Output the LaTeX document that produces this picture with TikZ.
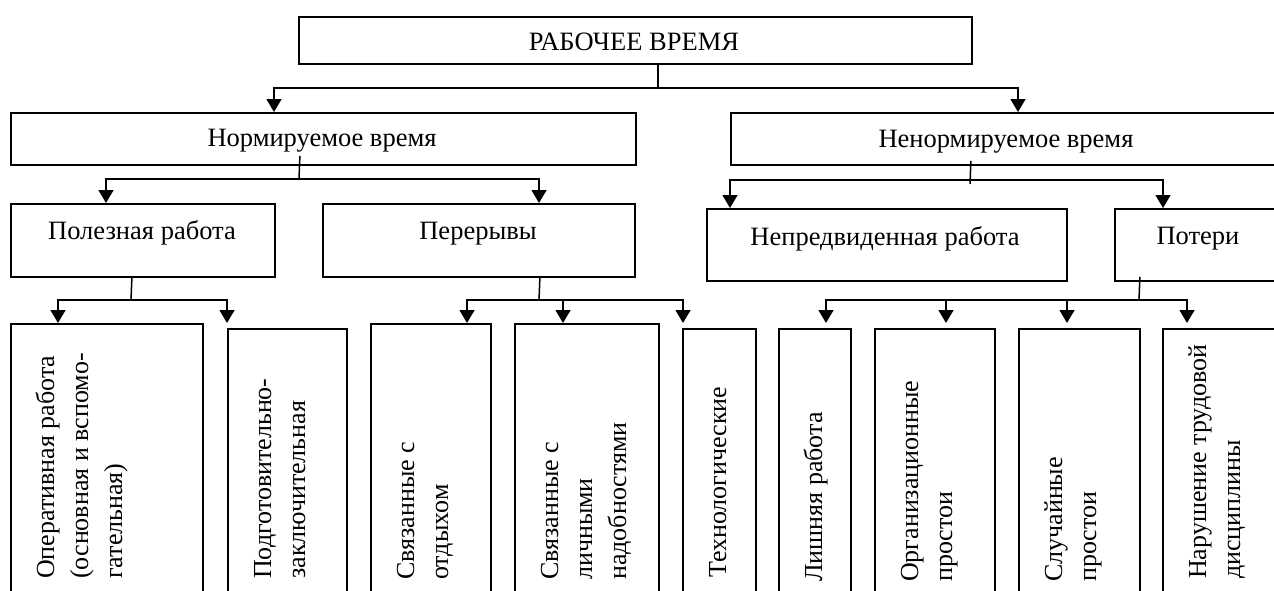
\documentclass[tikz,border=0pt]{standalone}
\usepackage{fontspec}
\setmainfont{Liberation Serif}
\usetikzlibrary{arrows.meta}
\newcommand\vtext[1]{\begin{tabular}[t]{@{}l@{}}#1\end{tabular}}
\begin{document}
\begin{tikzpicture}[x=1pt,y=-1pt,
  box/.style={draw, line width=1.8pt, inner sep=0pt, anchor=north west},
  lbl/.style={inner sep=0pt, anchor=base, font=\fontsize{26.5}{31}\selectfont},
  vlbl/.style={inner sep=0pt, anchor=base west, rotate=90, font=\fontsize{26}{34}\selectfont},
  conn/.style={line width=1.5pt},
  arr/.style={conn, -{Triangle[length=13pt,width=15pt]}},
]
\useasboundingbox (0,0) rectangle (1274,590);
\fill[white] (0,0) rectangle (1274,590);
\clip (0,0) rectangle (1274,590);

% level 0
\node[box, minimum width=673pt, minimum height=47pt] (top) at (298,16) {};
\node[lbl] (ttop) at (634,50) {РАБОЧЕЕ ВРЕМЯ};

% level 1
\node[box, minimum width=625pt, minimum height=52pt] (norm) at (10,112) {};
\node[lbl] (tnorm) at (322,146) {Нормируемое время};
\node[box, minimum width=560pt, minimum height=52pt] (nenorm) at (730,112) {};
\node[lbl] (tnenorm) at (1006,147) {Ненормируемое время};

% level 2
\node[box, minimum width=264pt, minimum height=73pt] (pol) at (10,203) {};
\node[lbl] (tpol) at (142,239) {Полезная работа};
\node[box, minimum width=312pt, minimum height=73pt] (per) at (322,203) {};
\node[lbl] (tper) at (478,239) {Перерывы};
\node[box, minimum width=360pt, minimum height=72pt] (nepr) at (706,208) {};
\node[lbl] (tnepr) at (885,245) {Непредвиденная работа};
\node[box, minimum width=176pt, minimum height=72pt] (pot) at (1114,208) {};
\node[lbl] (tpot) at (1198,244) {Потери};

% level 3
\node[box, minimum width=192pt, minimum height=277pt] (op) at (10,323) {};
\node[box, minimum width=119pt, minimum height=272pt] (podg) at (227,328) {};
\node[box, minimum width=120pt, minimum height=277pt] (otd) at (370,323) {};
\node[box, minimum width=144pt, minimum height=277pt] (lich) at (514,323) {};
\node[box, minimum width=73pt, minimum height=272pt] (tech) at (682,328) {};
\node[box, minimum width=72pt, minimum height=272pt] (lish) at (778,328) {};
\node[box, minimum width=120pt, minimum height=272pt] (org) at (874,328) {};
\node[box, minimum width=121pt, minimum height=272pt] (slu) at (1018,328) {};
\node[box, minimum width=130pt, minimum height=272pt] (nar) at (1162,328) {};

\node[vlbl] (top1) at (54,579) {\vtext{Оперативная работа\\(основная и вспомо-\\гательная)}};
\node[vlbl] (tpodg) at (271,579) {\vtext{Подготовительно-\\заключительная}};
\node[vlbl] (totd) at (414,580) {\vtext{Связанные с\\отдыхом}};
\node[vlbl] (tlich) at (558,580) {\vtext{Связанные с\\личными\\надобностями}};
\node[vlbl] (ttech) at (726,578) {\vtext{Технологические}};
\node[vlbl] (tlish) at (822,582) {\vtext{Лишняя работа}};
\node[vlbl] (torg) at (918,582) {\vtext{Организационные\\простои}};
\node[vlbl] (tslu) at (1062,582) {\vtext{Случайные\\простои}};
\node[vlbl] (tnar) at (1206,579) {\vtext{Нарушение трудовой\\дисциплины}};

% connectors
\coordinate (b0) at (658,88);
\draw[conn] (b0 |- top.south) -- (b0);
\draw[arr] (b0) -| ([xshift=264pt]norm.north west);
\draw[arr] (b0) -| ([xshift=288pt]nenorm.north west);

\coordinate (b1) at (299,179);
\draw[conn] ([xshift=-23.5pt,yshift=10pt]norm.south) -- (b1);
\draw[arr] (b1) -| ([xshift=96pt]pol.north west);
\draw[arr] (b1) -| ([xshift=217pt]per.north west);

\coordinate (b2) at (970,180);
\draw[conn] ([xshift=-40pt,yshift=5pt]nenorm.south) -- ([yshift=-4pt]b2);
\draw[arr] (b2) -| ([xshift=24pt]nepr.north west);
\draw[arr] (b2) -| ([xshift=49pt]pot.north west);

\coordinate (b3) at (131,300);
\draw[conn] ([xshift=-11pt]pol.south) -- (b3);
\draw[arr] (b3) -| ([xshift=48pt]op.north west);
\draw[arr] (b3) -| ([yshift=5pt]podg.north west);

\coordinate (b4) at (539,300);
\draw[conn] ([xshift=61pt]per.south) -- (b4);
\draw[arr] (b4) -| ([xshift=97pt]otd.north west);
\draw[arr] (b4) -| ([xshift=49pt]lich.north west);
\draw[arr] (b4) -| ([xshift=1pt,yshift=5pt]tech.north west);

\coordinate (b5) at (1139,300);
\draw[conn] ([xshift=-63pt,yshift=5pt]pot.south) -- (b5);
\draw[arr] (b5) -| ([xshift=48pt,yshift=5pt]lish.north west);
\draw[arr] (b5) -| ([xshift=72pt,yshift=5pt]org.north west);
\draw[arr] (b5) -| ([xshift=49pt,yshift=5pt]slu.north west);
\draw[arr] (b5) -| ([xshift=25pt,yshift=5pt]nar.north west);
\end{tikzpicture}
\end{document}
